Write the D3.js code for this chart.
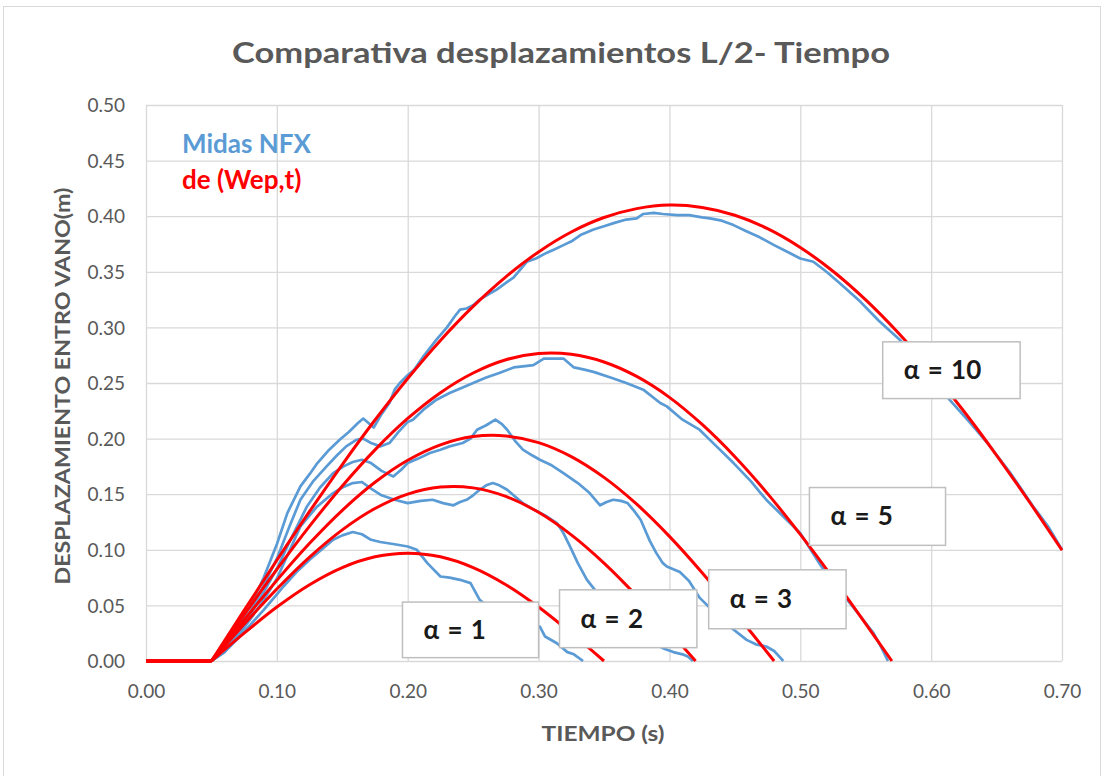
<!DOCTYPE html>
<html>
<head>
<meta charset="utf-8">
<script src="https://cdn.jsdelivr.net/npm/d3@7"></script>
<style>
  html, body { margin: 0; padding: 0; background: #fff; }
  svg { display: block; }
  text { font-family: Lato, "Open Sans", "DejaVu Sans", sans-serif; }
</style>
</head>
<body>
<svg id="chart" width="1104" height="776"></svg>
<script>
// ---------- DATA ----------
const title = "Comparativa desplazamientos L/2- Tiempo";
const xLabel = "TIEMPO (s)";
const yLabel = "DESPLAZAMIENTO ENTRO VANO(m)";
const xTicks = [0, 0.1, 0.2, 0.3, 0.4, 0.5, 0.6, 0.7];
const yTicks = [0, 0.05, 0.1, 0.15, 0.2, 0.25, 0.3, 0.35, 0.4, 0.45, 0.5];
const legendNames = ["Midas NFX", "de (Wep,t)"];
const alphaNames = ["α = 1", "α = 2", "α = 3", "α = 5", "α = 10"];

// Midas NFX (blue) series: [time, displacement]
const midasA1 = [[0,0],[0.05,0],[0.06,0.008],[0.07,0.02],[0.08,0.033],[0.09,0.046],[0.1,0.06],[0.105,0.067],[0.115,0.08],[0.125,0.091],[0.135,0.101],[0.143,0.109],[0.15,0.113],[0.158,0.116],[0.165,0.114],[0.172,0.109],[0.179,0.107],[0.19,0.105],[0.2,0.103],[0.207,0.1],[0.215,0.088],[0.225,0.076],[0.232,0.075],[0.24,0.073],[0.248,0.07],[0.255,0.055],[0.265,0.045],[0.275,0.04],[0.285,0.035],[0.295,0.03],[0.301,0.031],[0.305,0.022],[0.314,0.016],[0.322,0.008],[0.327,0.006],[0.334,0]];
const midasA2 = [[0,0],[0.05,0],[0.06,0.008],[0.07,0.022],[0.08,0.038],[0.09,0.055],[0.1,0.074],[0.11,0.1],[0.118,0.121],[0.13,0.138],[0.143,0.151],[0.15,0.156],[0.158,0.16],[0.165,0.161],[0.172,0.155],[0.18,0.149],[0.19,0.145],[0.2,0.142],[0.21,0.144],[0.219,0.145],[0.227,0.142],[0.235,0.14],[0.24,0.143],[0.245,0.145],[0.25,0.149],[0.255,0.154],[0.26,0.158],[0.265,0.16],[0.27,0.158],[0.276,0.154],[0.282,0.148],[0.288,0.142],[0.295,0.137],[0.305,0.131],[0.314,0.124],[0.319,0.115],[0.324,0.103],[0.33,0.088],[0.337,0.073],[0.345,0.061],[0.352,0.058],[0.36,0.055],[0.366,0.049],[0.372,0.043],[0.38,0.028],[0.388,0.016],[0.396,0.011],[0.403,0.008],[0.41,0.006],[0.414,0.004],[0.418,0]];
const midasA3 = [[0,0],[0.05,0],[0.06,0.009],[0.07,0.025],[0.08,0.042],[0.09,0.062],[0.1,0.083],[0.11,0.108],[0.123,0.139],[0.133,0.156],[0.143,0.169],[0.151,0.175],[0.158,0.179],[0.165,0.181],[0.172,0.178],[0.18,0.171],[0.189,0.166],[0.195,0.172],[0.2,0.178],[0.208,0.182],[0.217,0.187],[0.225,0.19],[0.232,0.193],[0.242,0.196],[0.248,0.2],[0.253,0.208],[0.26,0.212],[0.267,0.217],[0.272,0.213],[0.276,0.208],[0.282,0.198],[0.288,0.19],[0.295,0.185],[0.301,0.181],[0.31,0.176],[0.319,0.169],[0.33,0.16],[0.339,0.151],[0.347,0.14],[0.352,0.143],[0.357,0.145],[0.363,0.144],[0.368,0.142],[0.373,0.135],[0.378,0.127],[0.385,0.108],[0.39,0.097],[0.395,0.088],[0.398,0.085],[0.408,0.08],[0.415,0.072],[0.423,0.057],[0.435,0.043],[0.446,0.031],[0.459,0.019],[0.466,0.015],[0.474,0.013],[0.48,0.009],[0.484,0.004],[0.487,0]];
const midasA5 = [[0,0],[0.05,0],[0.06,0.01],[0.07,0.027],[0.08,0.045],[0.09,0.068],[0.1,0.092],[0.11,0.122],[0.118,0.145],[0.128,0.162],[0.138,0.175],[0.146,0.185],[0.153,0.193],[0.161,0.199],[0.166,0.2],[0.172,0.196],[0.179,0.193],[0.186,0.196],[0.193,0.206],[0.2,0.215],[0.204,0.217],[0.212,0.226],[0.222,0.235],[0.232,0.241],[0.242,0.246],[0.25,0.25],[0.26,0.255],[0.27,0.259],[0.281,0.264],[0.288,0.265],[0.296,0.266],[0.304,0.272],[0.312,0.272],[0.319,0.272],[0.327,0.264],[0.335,0.262],[0.342,0.26],[0.355,0.255],[0.367,0.25],[0.38,0.244],[0.393,0.232],[0.398,0.229],[0.41,0.217],[0.423,0.208],[0.436,0.193],[0.449,0.178],[0.462,0.162],[0.474,0.145],[0.487,0.13],[0.5,0.115],[0.508,0.1],[0.515,0.087],[0.525,0.07],[0.536,0.055],[0.546,0.04],[0.556,0.025],[0.562,0.012],[0.567,0]];
const midasA10 = [[0,0],[0.05,0],[0.06,0.012],[0.07,0.03],[0.08,0.05],[0.09,0.075],[0.1,0.105],[0.108,0.133],[0.118,0.157],[0.125,0.168],[0.131,0.178],[0.14,0.19],[0.148,0.199],[0.155,0.206],[0.162,0.214],[0.166,0.218],[0.17,0.214],[0.174,0.21],[0.18,0.222],[0.186,0.232],[0.19,0.244],[0.194,0.25],[0.199,0.256],[0.205,0.262],[0.212,0.274],[0.222,0.289],[0.23,0.3],[0.236,0.31],[0.24,0.316],[0.245,0.317],[0.25,0.32],[0.255,0.325],[0.262,0.33],[0.268,0.334],[0.275,0.34],[0.281,0.345],[0.286,0.352],[0.291,0.359],[0.298,0.362],[0.306,0.367],[0.312,0.37],[0.319,0.374],[0.326,0.378],[0.332,0.383],[0.342,0.388],[0.35,0.391],[0.358,0.394],[0.367,0.397],[0.375,0.398],[0.38,0.402],[0.388,0.403],[0.395,0.402],[0.406,0.401],[0.415,0.401],[0.425,0.399],[0.431,0.398],[0.44,0.396],[0.449,0.392],[0.458,0.387],[0.469,0.381],[0.48,0.374],[0.49,0.368],[0.5,0.362],[0.51,0.359],[0.52,0.35],[0.53,0.34],[0.546,0.323],[0.56,0.306],[0.576,0.289],[0.595,0.262],[0.614,0.235],[0.63,0.214],[0.643,0.196],[0.66,0.17],[0.678,0.139],[0.69,0.12],[0.7,0.1]];

// de (Wep,t) (red) series: [time, displacement]
const wepA1 = [[0,0],[0.05,0],[0.075,0.025],[0.1,0.0485],[0.125,0.0686],[0.15,0.084],[0.175,0.0937],[0.2,0.097],[0.225,0.0937],[0.25,0.084],[0.275,0.0686],[0.3,0.0485],[0.325,0.025],[0.35,0]];
const wepA2 = [[0,0],[0.05,0],[0.075,0.0331],[0.1,0.0647],[0.125,0.0934],[0.15,0.1179],[0.175,0.1371],[0.2,0.1501],[0.225,0.1564],[0.25,0.1557],[0.275,0.148],[0.3,0.1337],[0.325,0.1134],[0.35,0.088],[0.375,0.0585],[0.4,0.0266],[0.42,0]];
const wepA3 = [[0,0],[0.05,0],[0.075,0.0369],[0.1,0.0725],[0.125,0.1058],[0.15,0.1355],[0.175,0.1607],[0.2,0.1805],[0.225,0.1944],[0.25,0.2018],[0.275,0.2024],[0.3,0.1964],[0.325,0.1838],[0.35,0.1651],[0.375,0.141],[0.4,0.1121],[0.425,0.0794],[0.45,0.0439],[0.48,0]];
const wepA5 = [[0,0],[0.05,0],[0.075,0.0417],[0.1,0.0824],[0.125,0.1213],[0.15,0.1574],[0.175,0.1899],[0.2,0.2181],[0.225,0.2413],[0.25,0.259],[0.275,0.2709],[0.3,0.2765],[0.325,0.2758],[0.35,0.2689],[0.375,0.2559],[0.4,0.2371],[0.425,0.2127],[0.45,0.1837],[0.475,0.1505],[0.5,0.1138],[0.525,0.0745],[0.55,0.0334],[0.57,0]];
const wepA10 = [[0,0],[0.05,0],[0.075,0.0456],[0.1,0.0906],[0.125,0.1345],[0.15,0.1767],[0.175,0.2167],[0.2,0.2541],[0.225,0.2883],[0.25,0.3189],[0.275,0.3455],[0.3,0.3679],[0.325,0.3858],[0.35,0.3988],[0.375,0.4068],[0.4,0.41],[0.425,0.4079],[0.45,0.4009],[0.475,0.3888],[0.5,0.3719],[0.525,0.3505],[0.55,0.3247],[0.575,0.2949],[0.6,0.2613],[0.625,0.2246],[0.65,0.185],[0.675,0.1432],[0.7,0.0996]];

// label boxes in data units: [t left, t right, v bottom, v top]
const alphaBoxes = [[0.196,0.300,0.003,0.053],[0.316,0.421,0.012,0.064],[0.430,0.535,0.029,0.082],[0.507,0.611,0.104,0.156],[0.563,0.668,0.236,0.287]];

const midasSeries = [midasA1, midasA2, midasA3, midasA5, midasA10];
const wepSeries = [wepA1, wepA2, wepA3, wepA5, wepA10];
const loadStart = 0.05; // time where the load starts (flat part before it)

// ---------- DRAW ----------
const svg = d3.select("#chart");
const W = 1104, H = 776;
const m = {left: 146, right: 1062, top: 105, bottom: 661};
const blue = "#5b9bd5", red = "#ff0000", grid = "#d9d9d9", txt = "#595959";

svg.append("rect").attr("x", 0).attr("y", 0).attr("width", W).attr("height", H).attr("fill", "#fff");
svg.append("rect").attr("x", 3.5).attr("y", 6.5).attr("width", 1097).attr("height", 775)
  .attr("fill", "none").attr("stroke", "#d9d9d9").attr("stroke-width", 1);

const x = d3.scaleLinear().domain([0, 0.7]).range([m.left, m.right]);
const y = d3.scaleLinear().domain([0, 0.5]).range([m.bottom, m.top]);

// Y axis + horizontal grid
const yAxis = svg.append("g").attr("transform", `translate(${m.left},0)`)
  .call(d3.axisLeft(y).tickValues(yTicks).tickFormat(d3.format(".2f"))
    .tickSize(-(m.right - m.left)).tickPadding(21));
yAxis.select(".domain").remove();
yAxis.selectAll("line").attr("stroke", grid).attr("stroke-width", 1.3);
yAxis.selectAll("text").attr("fill", txt).style("font-size", "19px").attr("dy", "0.35em");

// X axis + vertical grid
const xAxis = svg.append("g").attr("transform", `translate(0,${m.bottom})`)
  .call(d3.axisBottom(x).tickValues(xTicks).tickFormat(d3.format(".2f"))
    .tickSize(-(m.bottom - m.top)).tickPadding(24));
xAxis.select(".domain").remove();
xAxis.selectAll("line").attr("stroke", grid).attr("stroke-width", 1.3);
xAxis.selectAll("text").attr("fill", txt).style("font-size", "19px");

// Lines
const line = d3.line().x(d => x(d[0])).y(d => y(d[1]));
const smooth = d3.line().x(d => x(d[0])).y(d => y(d[1])).curve(d3.curveCatmullRom.alpha(0.5));

svg.append("g").selectAll("path").data(midasSeries).join("path")
  .attr("d", line).attr("fill", "none").attr("stroke", blue)
  .attr("stroke-width", 2.7).attr("stroke-linejoin", "round");

const redG = svg.append("g");
// flat part before the load
redG.selectAll("path.flat").data(wepSeries).join("path").attr("class", "flat")
  .attr("d", s => line(s.filter(d => d[0] <= loadStart)))
  .attr("fill", "none").attr("stroke", red).attr("stroke-width", 3);
// arch
redG.selectAll("path.arch").data(wepSeries).join("path").attr("class", "arch")
  .attr("d", s => smooth(s.filter(d => d[0] >= loadStart)))
  .attr("fill", "none").attr("stroke", red).attr("stroke-width", 3)
  .attr("stroke-linejoin", "round");

// alpha label boxes
const boxes = svg.append("g").selectAll("g").data(alphaBoxes).join("g");
boxes.append("rect")
  .attr("x", d => x(d[0])).attr("y", d => y(d[3]))
  .attr("width", d => x(d[1]) - x(d[0])).attr("height", d => y(d[2]) - y(d[3]))
  .attr("fill", "#fff").attr("stroke", "#bfbfbf").attr("stroke-width", 1.5);
boxes.append("text")
  .attr("x", d => x(d[0]) + 21)
  .attr("y", d => (y(d[2]) + y(d[3])) / 2 + 9)
  .attr("fill", "#1a1a1a").style("font-size", "26px").style("font-weight", "bold")
  .style("word-spacing", "2px")
  .text((d, i) => alphaNames[i]);

// Legend text
svg.append("text").attr("x", 182).attr("y", 153).attr("fill", blue)
  .style("font-size", "26px").style("font-weight", "bold").text(legendNames[0]);
svg.append("text").attr("x", 182).attr("y", 189).attr("fill", red)
  .style("font-size", "26px").style("font-weight", "bold").text(legendNames[1]);

// Title
svg.append("text").attr("x", 561).attr("y", 63).attr("text-anchor", "middle")
  .attr("fill", txt).style("font-size", "29px").style("font-weight", "bold")
  .attr("textLength", 658).attr("lengthAdjust", "spacingAndGlyphs")
  .text(title);

// Axis titles
svg.append("text").attr("x", 603).attr("y", 741).attr("text-anchor", "middle")
  .attr("fill", txt).style("font-size", "21px").style("font-weight", "bold")
  .attr("textLength", 123).attr("lengthAdjust", "spacingAndGlyphs")
  .text(xLabel);
svg.append("text").attr("transform", "translate(70,386) rotate(-90)")
  .attr("text-anchor", "middle").attr("fill", txt)
  .style("font-size", "20px").style("font-weight", "bold")
  .attr("textLength", 397).attr("lengthAdjust", "spacingAndGlyphs")
  .text(yLabel);
</script>
</body>
</html>
